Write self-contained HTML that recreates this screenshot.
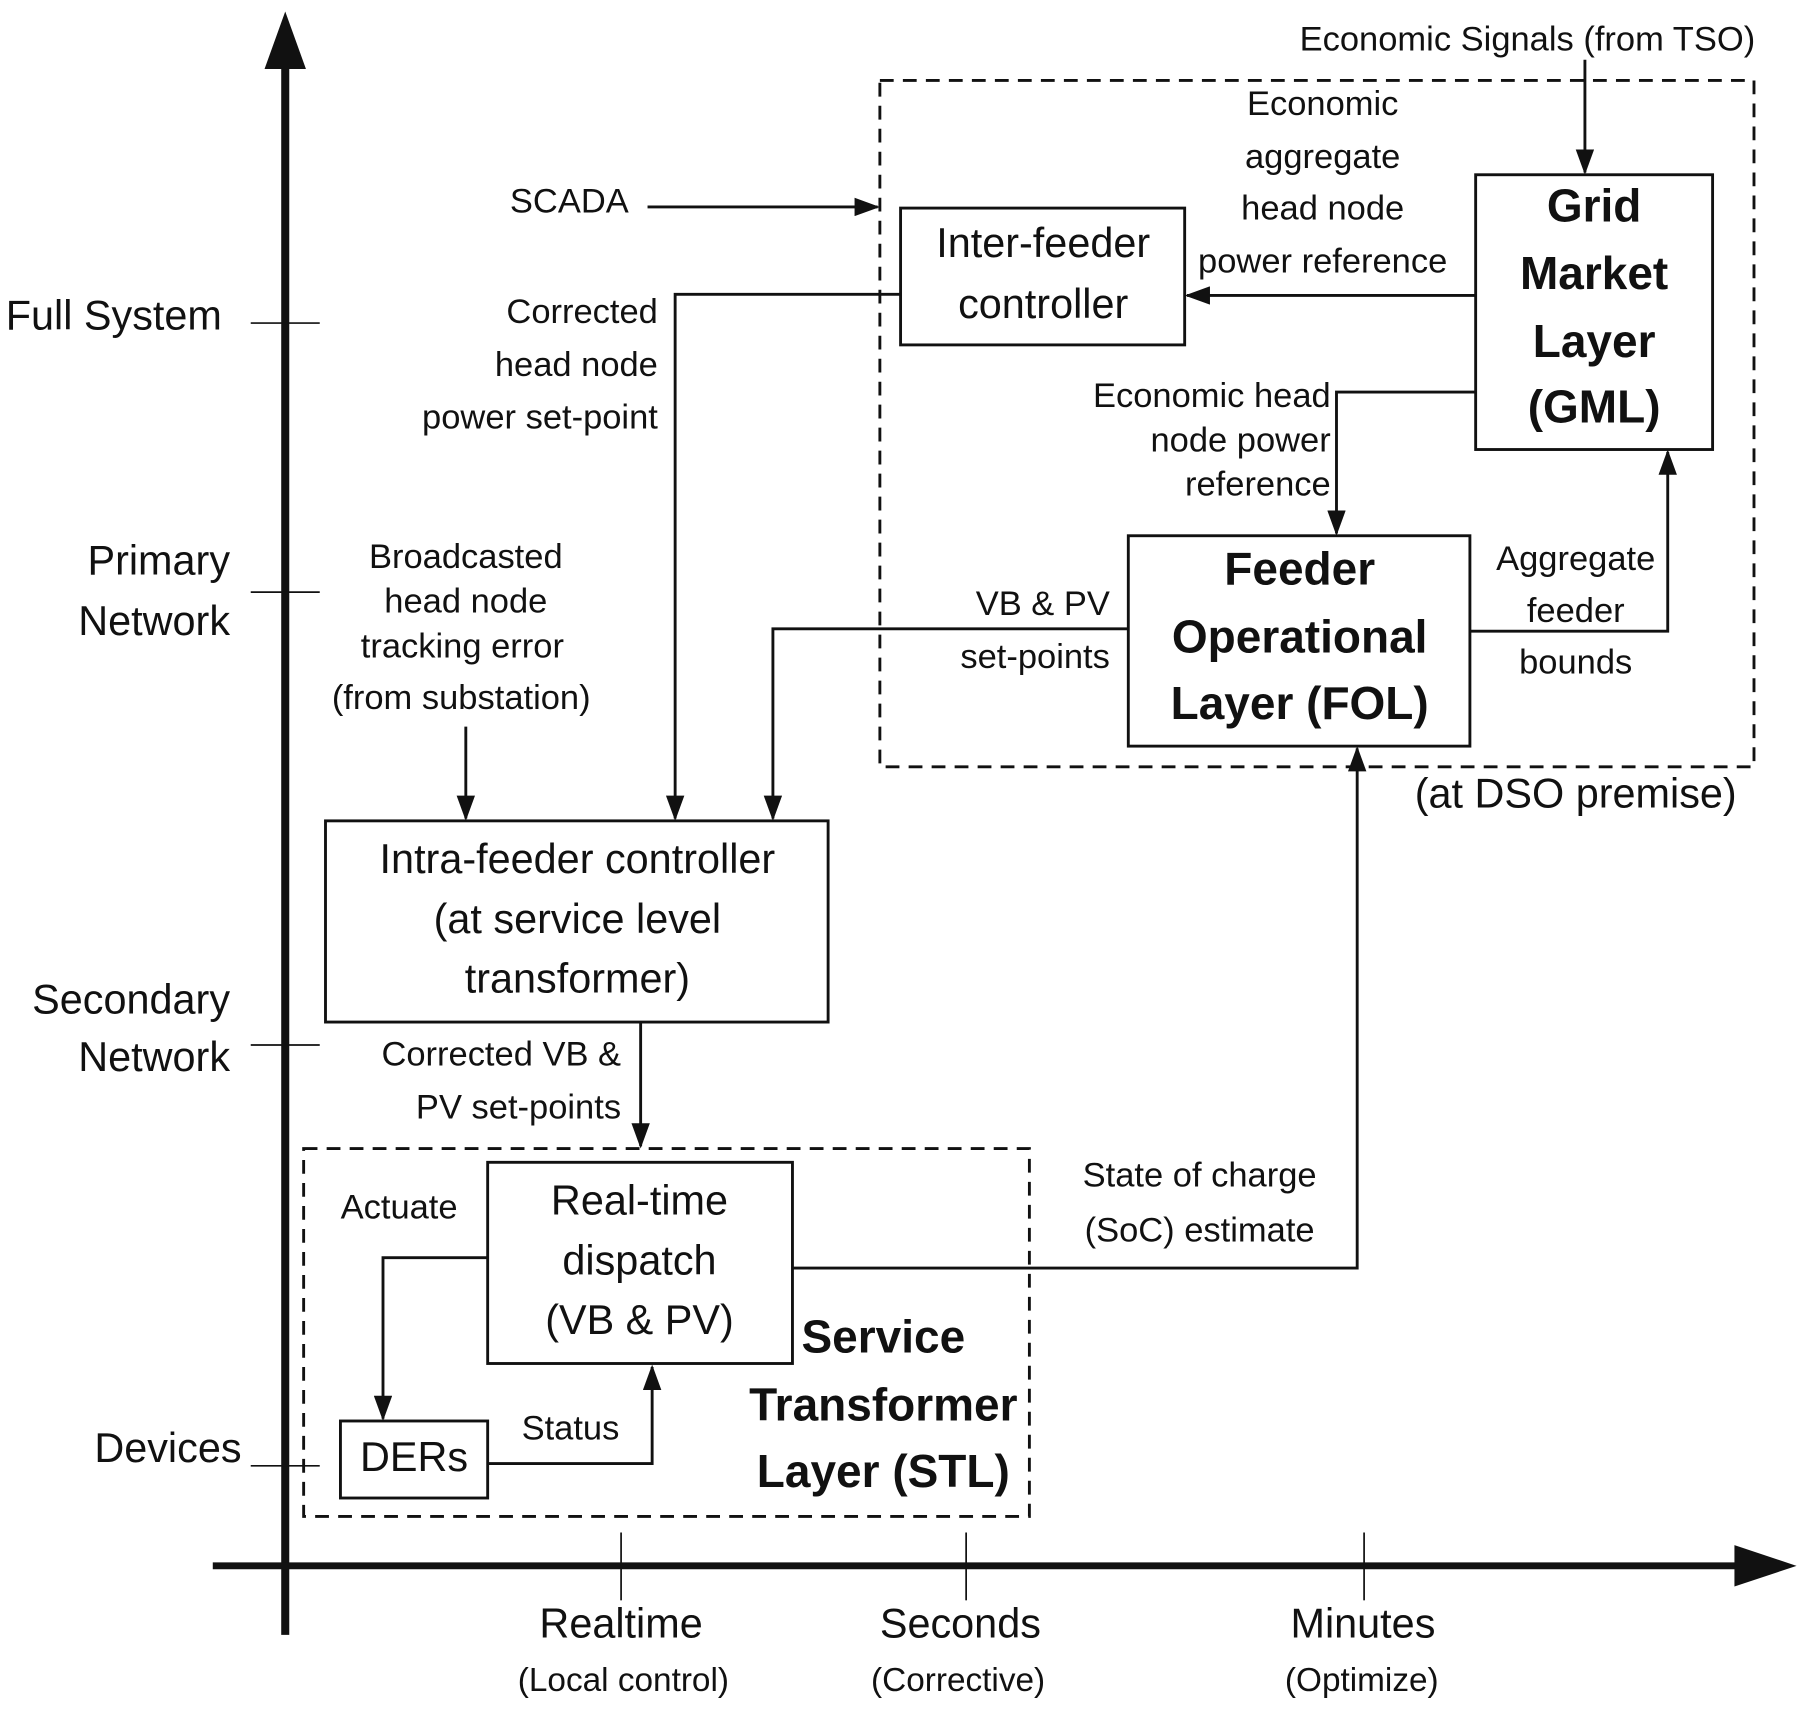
<!DOCTYPE html>
<html><head><meta charset="utf-8">
<style>
html,body{margin:0;padding:0;background:#fff;}
svg{display:block;}
text{font-family:"Liberation Sans",sans-serif;fill:#111;dominant-baseline:middle;}
.b{font-weight:bold;}
</style></head>
<body>
<svg width="1800" height="1713" viewBox="0 0 1565 1490" preserveAspectRatio="none" xmlns="http://www.w3.org/2000/svg">
<defs>
<marker id="a" markerWidth="22" markerHeight="16" refX="20" refY="8" orient="auto" markerUnits="userSpaceOnUse" viewBox="0 0 22 16">
<path d="M0,0 L22,8 L0,16 z" fill="#111"/>
</marker>
</defs>
<g stroke="#111" fill="none">
<line x1="248" y1="50" x2="248" y2="1422" stroke-width="7"/>
<polygon points="248,10 230,60 266,60" fill="#111" stroke="none"/>
<line x1="185" y1="1362" x2="1515" y2="1362" stroke-width="6"/>
<polygon points="1562,1362 1508,1344 1508,1380" fill="#111" stroke="none"/>
<g stroke-width="1.5">
<line x1="218" y1="281" x2="278" y2="281"/>
<line x1="218" y1="515" x2="278" y2="515"/>
<line x1="218" y1="909" x2="278" y2="909"/>
<line x1="218" y1="1275" x2="278" y2="1275"/>
<line x1="540" y1="1333" x2="540" y2="1392"/>
<line x1="840" y1="1333" x2="840" y2="1392"/>
<line x1="1186" y1="1333" x2="1186" y2="1392"/>
</g>
<rect x="765" y="70" width="760" height="597" stroke-width="2.5" stroke-dasharray="12,8"/>
<rect x="264" y="999" width="631" height="320" stroke-width="2.5" stroke-dasharray="12,8"/>
<g stroke-width="2.5">
<rect x="1283" y="152" width="206" height="239"/>
<rect x="783" y="181" width="247" height="119"/>
<rect x="981" y="466" width="297" height="183"/>
<rect x="283" y="714" width="437" height="175"/>
<rect x="424" y="1011" width="265" height="175"/>
<rect x="296" y="1236" width="128" height="67"/>
</g>
<g stroke-width="2.5" marker-end="url(#a)">
<line x1="1378" y1="52" x2="1378" y2="150"/>
<line x1="563" y1="180" x2="763" y2="180"/>
<line x1="1283" y1="257" x2="1032" y2="257"/>
<polyline points="783,256 587,256 587,712"/>
<polyline points="1283,341 1162,341 1162,464"/>
<polyline points="1278,549 1450,549 1450,393"/>
<polyline points="981,547 672,547 672,712"/>
<line x1="405" y1="632" x2="405" y2="712"/>
<line x1="557" y1="889" x2="557" y2="997"/>
<polyline points="689,1103 1180,1103 1180,651"/>
<polyline points="424,1094 333,1094 333,1234"/>
<polyline points="424,1273 567,1273 567,1189"/>
</g>
</g>
<g font-size="36">
<text x="5" y="277">Full System</text>
<text x="200" y="490" text-anchor="end">Primary</text>
<text x="200" y="543" text-anchor="end">Network</text>
<text x="200" y="872" text-anchor="end">Secondary</text>
<text x="200" y="922" text-anchor="end">Network</text>
<text x="210" y="1262" text-anchor="end">Devices</text>
<text x="540" y="1415" text-anchor="middle">Realtime</text>
<text x="835" y="1415" text-anchor="middle">Seconds</text>
<text x="1185" y="1415" text-anchor="middle">Minutes</text>
</g>
<g font-size="29" text-anchor="middle">
<text x="542" y="1463">(Local control)</text>
<text x="833" y="1463">(Corrective)</text>
<text x="1184" y="1463">(Optimize)</text>
</g>
<g font-size="40" class="b" text-anchor="middle">
<text x="1386" y="182" class="b">Grid</text>
<text x="1386" y="241" class="b">Market</text>
<text x="1386" y="300" class="b">Layer</text>
<text x="1386" y="357" class="b">(GML)</text>
<text x="1130" y="498" class="b">Feeder</text>
<text x="1130" y="557" class="b">Operational</text>
<text x="1130" y="615" class="b">Layer (FOL)</text>
<text x="768" y="1166" class="b">Service</text>
<text x="768" y="1225" class="b">Transformer</text>
<text x="768" y="1283" class="b">Layer (STL)</text>
</g>
<g font-size="36" text-anchor="middle">
<text x="907" y="214">Inter-feeder</text>
<text x="907" y="267">controller</text>
<text x="502" y="750">Intra-feeder controller</text>
<text x="502" y="802">(at service level</text>
<text x="502" y="854">transformer)</text>
<text x="556" y="1047">Real-time</text>
<text x="556" y="1099">dispatch</text>
<text x="556" y="1151">(VB &amp; PV)</text>
<text x="360" y="1270">DERs</text>
<text x="1370" y="693">(at DSO premise)</text>
</g>
<g font-size="30" text-anchor="middle">
<text x="1328" y="36">Economic Signals (from TSO)</text>
<text x="1150" y="92">Economic</text>
<text x="1150" y="138">aggregate</text>
<text x="1150" y="183">head node</text>
<text x="1150" y="229">power reference</text>
<text x="495" y="177">SCADA</text>
<text x="1370" y="488">Aggregate</text>
<text x="1370" y="533">feeder</text>
<text x="1370" y="578">bounds</text>
<text x="405" y="486">Broadcasted</text>
<text x="405" y="525">head node</text>
<text x="402" y="564">tracking error</text>
<text x="401" y="609">(from substation)</text>
<text x="1043" y="1024">State of charge</text>
<text x="1043" y="1072">(SoC) estimate</text>
<text x="347" y="1052">Actuate</text>
<text x="496" y="1244">Status</text>
</g>
<g font-size="30" text-anchor="end">
<text x="572" y="273">Corrected</text>
<text x="572" y="319">head node</text>
<text x="572" y="365">power set-point</text>
<text x="1157" y="346">Economic head</text>
<text x="1157" y="385">node power</text>
<text x="1157" y="423">reference</text>
<text x="965" y="527">VB &amp; PV</text>
<text x="965" y="573">set-points</text>
<text x="540" y="919">Corrected VB  &amp;</text>
<text x="540" y="965">PV set-points</text>
</g>
</svg>
</body></html>
